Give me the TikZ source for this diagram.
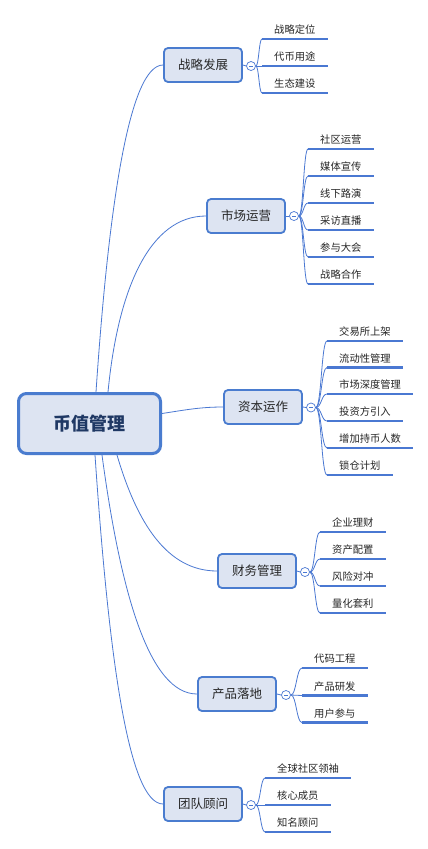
\documentclass[tikz,border=0pt]{standalone}
\usepackage{fontspec}
\setmainfont{Noto Sans CJK SC}
\usetikzlibrary{calc,backgrounds}
\definecolor{bdr}{HTML}{4A7CCF}
\definecolor{boxfill}{HTML}{DDE4F2}
\definecolor{lnk}{HTML}{4A78D2}
\definecolor{rootTxt}{HTML}{1F3864}
\begin{document}
\begin{tikzpicture}[x=1pt,y=-1pt,
  rootbox/.style={draw=bdr, line width=3pt, fill=boxfill, rounded corners=8pt,
    minimum width=142pt, minimum height=60pt, inner sep=0pt,
    font=\fontsize{18}{20}\selectfont\bfseries, text=rootTxt},
  branchbox/.style={draw=bdr, line width=1.8pt, fill=boxfill, rounded corners=4pt,
    minimum width=78pt, minimum height=34pt, inner sep=0pt,
    font=\fontsize{12.5}{14}\selectfont, text=black!85},
  knob/.style={circle, draw=lnk, line width=0.7pt, fill=white, minimum size=9pt, inner sep=0pt},
  leaf/.style={anchor=south west, inner xsep=12pt, inner ysep=3pt, text height=8pt,
    text depth=2pt, font=\fontsize{10.3}{12}\selectfont, text=black!85},
  uline/.style={draw=lnk, line width=2.2pt},
  link/.style={draw=lnk, line width=0.8pt},
]
\useasboundingbox (0,0) rectangle (428,849);
\begin{scope}[on background layer]
\fill[white] (0,0) rectangle (428,849);
\end{scope}

% root
\node[rootbox] (root) at (89.5,423.5) {币值管理};

% branches
\node[branchbox] (b1) at (203,65) {战略发展};
\node[branchbox] (b2) at (246,216) {市场运营};
\node[branchbox] (b3) at (263,407) {资本运作};
\node[branchbox] (b4) at (257,571) {财务管理};
\node[branchbox] (b5) at (237,694) {产品落地};
\node[branchbox] (b6) at (203,804) {团队顾问};

% knobs
\foreach \b/\x/\y in {1/251/66, 2/294/216, 3/311/407.5, 4/305/572, 5/286/695, 6/251/805}{
  \node[knob] (c\b) at (\x,\y) {};
  \draw[link] ($(c\b)+(-2,0)$) -- ($(c\b)+(2,0)$);
}

% leaves
\foreach \t/\y [count=\i] in {战略定位/39, 代币用途/66, 生态建设/93}
  \node[leaf] (l1-\i) at (262,\y) {\t};
\foreach \t/\y [count=\i] in {社区运营/149, 媒体宣传/176, 线下路演/203, 采访直播/230, 参与大会/257, 战略合作/284}
  \node[leaf] (l2-\i) at (308,\y) {\t};
\foreach \t/\y [count=\i] in {交易所上架/341, 流动性管理/367.5, 市场深度管理/394, 投资方引入/421, 增加持币人数/448, 锁仓计划/475}
  \node[leaf] (l3-\i) at (327,\y) {\t};
\foreach \t/\y [count=\i] in {企业理财/532, 资产配置/559, 风险对冲/586, 量化套利/613}
  \node[leaf] (l4-\i) at (320,\y) {\t};
\foreach \t/\y [count=\i] in {代码工程/668, 产品研发/695.5, 用户参与/722.5}
  \node[leaf] (l5-\i) at (302,\y) {\t};
\foreach \t/\y [count=\i] in {全球社区领袖/778, 核心成员/805, 知名顾问/832}
  \node[leaf] (l6-\i) at (265,\y) {\t};

% underlines and leaf connectors
\begin{scope}[on background layer]
\foreach \b/\n in {1/3, 2/6, 3/6, 4/4, 5/3, 6/3}{
  \foreach \i in {1,...,\n}{
    \draw[uline] (l\b-\i.south west) -- (l\b-\i.south east);
    \draw[link] (c\b.east) .. controls ($(c\b.east)!.5!(l\b-\i.south west |- c\b.east)$)
       and ($(c\b.east |- l\b-\i.south west)!.5!(l\b-\i.south west)$) .. (l\b-\i.south west);
  }
  \draw[link] (b\b.east) -- (c\b.west);
}

% root connectors
\coordinate (s1) at ($(root.north)+(6.5,0)$);
\coordinate (s2) at ($(root.north)+(18.5,0)$);
\coordinate (s3) at ($(root.east)+(0,-10)$);
\coordinate (s4) at ($(root.south)+(27.5,0)$);
\coordinate (s5) at ($(root.south)+(12.5,0)$);
\coordinate (s6) at ($(root.south)+(5.5,0)$);
\draw[link] (s1) .. controls (109,200) and (130,65) .. (b1.west);
\draw[link] (s2) .. controls (118,288) and (150,216) .. (b2.west);
\draw[link] (s3) .. controls (185,410) and (200,407) .. (b3.west);
\draw[link] (s4) .. controls (137,523) and (167,571) .. (b4.west);
\draw[link] (s5) .. controls (121,596) and (150,694) .. (b5.west);
\draw[link] (s6) .. controls (109,661) and (129,804) .. (b6.west);
\end{scope}
\end{tikzpicture}
\end{document}
